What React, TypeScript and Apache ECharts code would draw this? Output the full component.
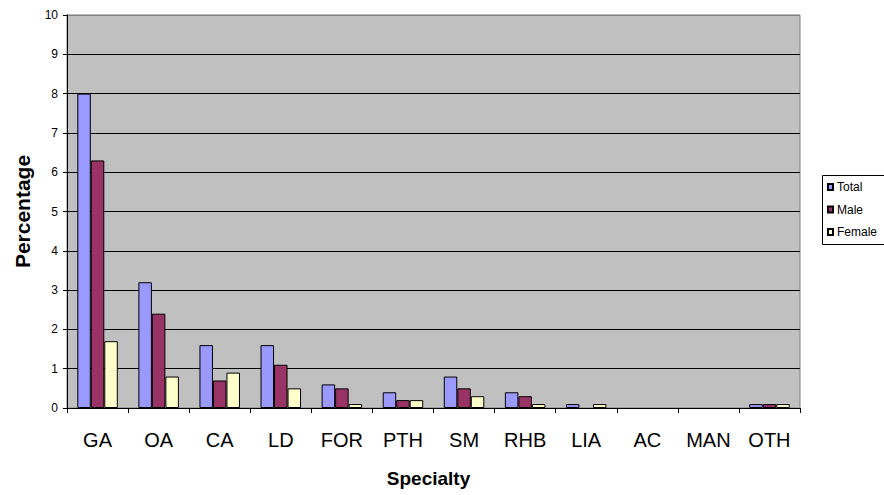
import React, { useEffect, useRef } from "react";
import * as echarts from "echarts";

const categories = ["GA", "OA", "CA", "LD", "FOR", "PTH", "SM", "RHB", "LIA", "AC", "MAN", "OTH"];
const totalValues = [8, 3.2, 1.6, 1.6, 0.6, 0.4, 0.8, 0.4, 0.1, 0, 0, 0.1];
const maleValues = [6.3, 2.4, 0.7, 1.1, 0.5, 0.2, 0.5, 0.3, 0, 0, 0, 0.1];
const femaleValues = [1.7, 0.8, 0.9, 0.5, 0.1, 0.2, 0.3, 0.1, 0.1, 0, 0, 0.1];
const seriesNames = ["Total", "Male", "Female"];
const seriesColors = ["#9999FF", "#993366", "#FFFFCC"];

const FONT = "Arial, 'Liberation Sans', sans-serif";

export default function App() {
  const ref = useRef<HTMLDivElement>(null);
  useEffect(() => {
    document.body.style.margin = "0";
    const chart = echarts.init(ref.current!, null, { renderer: "svg" });
    const splitColors = Array.from({ length: 11 }, (_, i) => (i === 10 ? "#808080" : "#000000"));
    const data = [totalValues, maleValues, femaleValues];
    chart.setOption({
      animation: false,
      backgroundColor: "#ffffff",
      textStyle: { fontFamily: FONT },
      grid: {
        left: 67,
        top: 15,
        right: 84,
        bottom: 87,
        show: true,
        backgroundColor: "#C0C0C0",
        borderColor: "#808080",
        borderWidth: 1,
      },
      graphic: [
        {
          type: "rect",
          shape: { x: 822.5, y: 175.5, width: 70, height: 69 },
          style: { fill: "#ffffff", stroke: "#000000", lineWidth: 1 },
          z: 0,
        },
      ],
      legend: {
        orient: "vertical",
        left: 827,
        top: 181,
        icon: "rect",
        itemWidth: 5,
        itemHeight: 6,
        itemGap: 10.5,
        padding: 0,
        z: 10,
        textStyle: { fontSize: 12, color: "#000", fontFamily: FONT, padding: [0, 0, 0, -1] },
        data: seriesNames,
      },
      xAxis: {
        type: "category",
        data: categories,
        boundaryGap: true,
        name: "Specialty",
        nameLocation: "middle",
        nameGap: 61,
        nameTextStyle: { fontSize: 19, fontWeight: "bold", color: "#000", fontFamily: FONT, padding: [0, 10, 0, 0] },
        axisLine: { lineStyle: { color: "#000", width: 1 } },
        axisTick: { show: true, inside: false, length: 5, lineStyle: { color: "#000" } },
        axisLabel: { fontSize: 20, color: "#000", margin: 22, fontFamily: FONT },
      },
      yAxis: {
        type: "value",
        min: 0,
        max: 10,
        interval: 1,
        name: "Percentage",
        nameLocation: "middle",
        nameGap: 34,
        nameTextStyle: { fontSize: 21, fontWeight: "bold", color: "#000", fontFamily: FONT },
        axisLine: { show: true, lineStyle: { color: "#000", width: 1 } },
        axisTick: { show: true, inside: false, length: 4, lineStyle: { color: "#000" } },
        axisLabel: { fontSize: 12, color: "#000", margin: 9, fontFamily: FONT },
        splitLine: { show: true, lineStyle: { color: splitColors, width: 1 } },
      },
      series: seriesNames.map((name, i) => ({
        name,
        type: "bar",
        data: data[i].map((v) => (v === 0 ? "-" : v)),
        barWidth: 13.5,
        barGap: "0%",
        itemStyle: { color: seriesColors[i], borderColor: "#000", borderWidth: 1 },
      })),
    });
    return () => chart.dispose();
  }, []);
  return <div ref={ref} style={{ width: 884, height: 495, position: "absolute", left: 0, top: 0 }} />;
}
